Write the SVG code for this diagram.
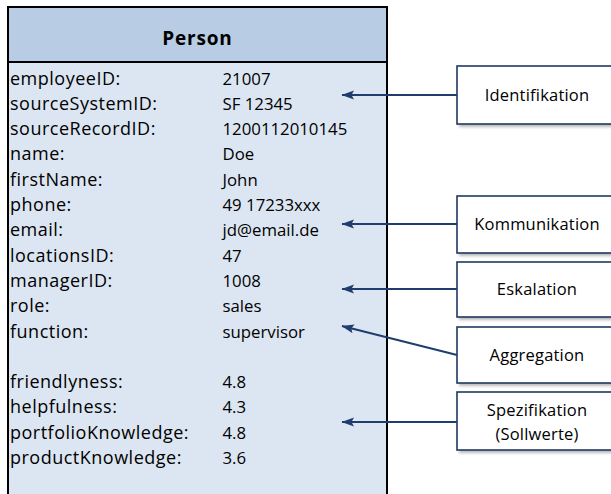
<svg xmlns="http://www.w3.org/2000/svg" width="611" height="494" viewBox="0 0 611 494">
<style>
.t{font-family:"Open Sans","Liberation Sans",sans-serif;font-size:18px;fill:#000;letter-spacing:0.5px}
.v{font-family:"Open Sans","Liberation Sans",sans-serif;font-size:16.8px;fill:#000;letter-spacing:0}
.h{font-family:"Open Sans","Liberation Sans",sans-serif;font-size:19px;font-weight:bold;fill:#000;letter-spacing:0.8px}
.lb{font-family:"Open Sans","Liberation Sans",sans-serif;font-size:16.5px;fill:#000;text-anchor:middle;letter-spacing:0.2px}
.box{fill:#fff;stroke:#1f3a60;stroke-width:1.6}
.sh{fill:#7f7f7f;opacity:0.55}
.ar{stroke:#1f3d6e;stroke-width:2;fill:none;marker-end:url(#ah)}
</style>
<defs>
<filter id="blur" x="-10%" y="-20%" width="130%" height="150%"><feGaussianBlur stdDeviation="1.5"/></filter>
<marker id="ah" markerWidth="14" markerHeight="10" refX="12" refY="4.5" orient="auto" markerUnits="userSpaceOnUse">
<path d="M0,0 L12.5,4.5 L0,9 L2.5,4.5 Z" fill="#1f3d6e"/>
</marker>
</defs>
<g id="person">
<rect x="8" y="7" width="379" height="500" fill="#dce6f2" stroke="#000" stroke-width="2"/>
<rect x="8" y="7" width="379" height="55" fill="#b8cce4" stroke="#000" stroke-width="2"/>
<text class="h" x="197.5" y="44.5" text-anchor="middle">Person</text>
<text class="t" x="10" y="84.5">employeeID:</text>
<text class="t" x="10" y="109.8">sourceSystemID:</text>
<text class="t" x="10" y="135.1">sourceRecordID:</text>
<text class="t" x="10" y="160.4">name:</text>
<text class="t" x="10" y="185.7">firstName:</text>
<text class="t" x="10" y="211">phone:</text>
<text class="t" x="10" y="236.3">email:</text>
<text class="t" x="10" y="261.6">locationsID:</text>
<text class="t" x="10" y="286.9">managerID:</text>
<text class="t" x="10" y="312.2">role:</text>
<text class="t" x="10" y="337.5">function:</text>
<text class="t" x="10" y="388.1">friendlyness:</text>
<text class="t" x="10" y="413.4">helpfulness:</text>
<text class="t" x="10" y="438.7">portfolioKnowledge:</text>
<text class="t" x="10" y="464">productKnowledge:</text>
<text class="v" x="222.5" y="84.5">21007</text>
<text class="v" x="222.5" y="109.8">SF 12345</text>
<text class="v" x="222.5" y="135.1">1200112010145</text>
<text class="v" x="222.5" y="160.4">Doe</text>
<text class="v" x="222.5" y="185.7">John</text>
<text class="v" x="222.5" y="211">49 17233xxx</text>
<text class="v" x="222.5" y="236.3">jd@email.de</text>
<text class="v" x="222.5" y="261.6">47</text>
<text class="v" x="222.5" y="286.9">1008</text>
<text class="v" x="222.5" y="312.2">sales</text>
<text class="v" x="222.5" y="337.5">supervisor</text>
<text class="v" x="222.5" y="388.1">4.8</text>
<text class="v" x="222.5" y="413.4">4.3</text>
<text class="v" x="222.5" y="438.7">4.8</text>
<text class="v" x="222.5" y="464">3.6</text>
</g>
<g id="identifikation">
<rect class="sh" x="459" y="69" width="165" height="58" filter="url(#blur)"/>
<rect class="box" x="457" y="66" width="165" height="58"/>
<text class="lb" x="537" y="101">Identifikation</text>
</g>
<g id="kommunikation">
<rect class="sh" x="459" y="199" width="165" height="57" filter="url(#blur)"/>
<rect class="box" x="457" y="196" width="165" height="57"/>
<text class="lb" x="537" y="230">Kommunikation</text>
</g>
<g id="eskalation">
<rect class="sh" x="459" y="265" width="165" height="55" filter="url(#blur)"/>
<rect class="box" x="457" y="262" width="165" height="55"/>
<text class="lb" x="537" y="295">Eskalation</text>
</g>
<g id="aggregation">
<rect class="sh" x="459" y="330" width="165" height="56" filter="url(#blur)"/>
<rect class="box" x="457" y="327" width="165" height="56"/>
<text class="lb" x="537" y="361">Aggregation</text>
</g>
<g id="spezifikation">
<rect class="sh" x="459" y="395" width="165" height="58" filter="url(#blur)"/>
<rect class="box" x="457" y="392" width="165" height="58"/>
<text class="lb" x="537" y="416">Spezifikation</text>
<text class="lb" x="537" y="440">(Sollwerte)</text>
</g>
<g id="connectors">
<line class="ar" x1="457" y1="95" x2="342" y2="95"/>
<line class="ar" x1="457" y1="224" x2="342" y2="224"/>
<line class="ar" x1="457" y1="289" x2="342" y2="289"/>
<line class="ar" x1="457" y1="355" x2="342" y2="326"/>
<line class="ar" x1="457" y1="422" x2="342" y2="422"/>
</g>
</svg>
